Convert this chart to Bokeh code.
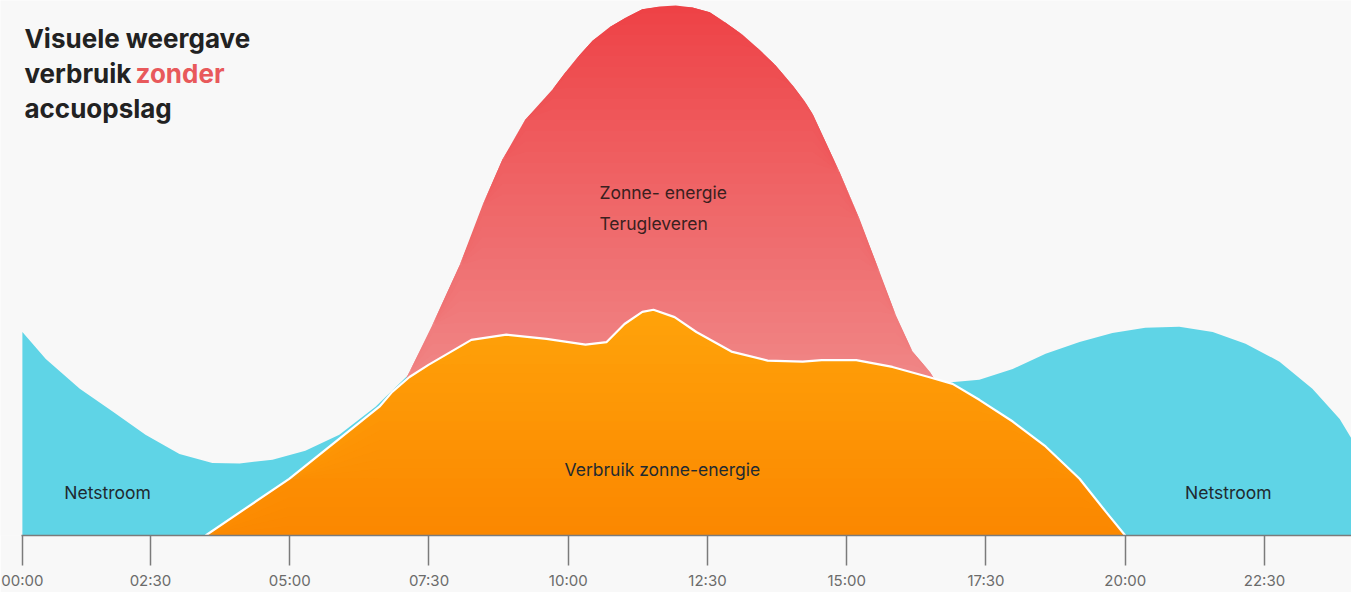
import numpy as np
from bokeh.plotting import figure
from bokeh.models import Range1d, LinearAxis, FixedTicker, Label
from bokeh.embed import file_html
from bokeh.resources import INLINE

# ---------------- data (hours of day, relative power 0-100) ----------------
grid_hours = [0.20, 0.62, 1.23, 1.82, 2.41, 3.02, 3.61, 4.10, 4.69, 5.28, 5.89, 6.54,
              7.15, 7.49, 8.26, 8.89, 9.61, 10.31, 10.69, 11.01, 11.33, 11.53, 11.91,
              12.30, 12.93, 13.58, 14.21, 14.55, 15.17, 15.82, 16.47, 16.77, 17.38,
              17.98, 18.57, 19.18, 19.77, 20.36, 20.97, 21.57, 22.16, 22.77, 23.36,
              23.85, 24.12]
grid_load = [38.4, 33.3, 27.7, 23.4, 19.0, 15.4, 13.7, 13.6, 14.3, 16.0, 19.0, 24.3,
             30.5, 32.2, 36.9, 37.9, 37.1, 36.0, 36.5, 39.9, 42.2, 42.6, 41.2,
             38.4, 34.7, 33.0, 32.8, 33.1, 33.1, 31.8, 29.9, 28.8, 29.4,
             31.4, 34.3, 36.5, 38.2, 39.2, 39.4, 38.4, 36.2, 32.8, 27.7,
             22.0, 17.3]

solar_hours = [7.02, 7.15, 7.56, 8.05, 8.46, 8.82, 9.23, 9.72, 9.95, 10.20, 10.44,
               10.74, 11.03, 11.33, 11.64, 11.93, 12.23, 12.54, 12.82, 13.13, 13.43,
               13.72, 14.03, 14.26, 14.39, 14.87, 15.23, 15.59, 15.88, 16.18, 16.49,
               16.63]
solar_prod = [28.1, 30.9, 39.7, 51.0, 62.3, 71.0, 78.5, 84.2, 87.4, 90.6, 93.4,
              95.9, 97.7, 99.3, 99.8, 100.0, 99.6, 98.7, 96.8, 94.5, 91.7,
              88.7, 84.9, 81.7, 79.5, 68.6, 59.7, 49.7, 41.6, 34.7, 30.9,
              28.6]

self_hours = [3.49, 4.99, 6.61, 6.84, 7.15, 7.49, 8.26, 8.89, 9.61, 10.31, 10.69,
              11.01, 11.33, 11.53, 11.91, 12.30, 12.93, 13.58, 14.21, 14.55, 15.17,
              15.82, 16.47, 16.90, 17.38, 17.98, 18.57, 19.18, 19.65, 20.00]
self_use = [0.0, 10.7, 24.3, 27.1, 29.9, 32.2, 36.9, 37.9, 37.1, 36.0, 36.5,
            39.9, 42.2, 42.6, 41.2, 38.4, 34.7, 33.0, 32.8, 33.1, 33.1,
            31.8, 29.9, 28.6, 25.6, 21.5, 16.8, 10.7, 4.5, 0.0]

tick_hours = [0.2, 2.5, 5.0, 7.5, 10.0, 12.5, 15.0, 17.5, 20.0, 22.5]
tick_labels = ["00:00", "02:30", "05:00", "07:30", "10:00", "12:30", "15:00",
               "17:30", "20:00", "22:30"]

BG = "#f8f8f8"
BLUE = "#5fd4e6"
RED_TOP, RED_BOTTOM = (238, 66, 70), (240, 134, 134)
ORA_TOP, ORA_BOTTOM = (255, 163, 10), (251, 135, 0)
FONT = "Inter"

p = figure(width=1351, height=592, x_range=Range1d(-0.193, 24.062),
           y_range=Range1d(0, 100.94), output_backend="svg", toolbar_location=None,
           x_axis_location=None, y_axis_location=None,
           min_border_left=0, min_border_right=0, min_border_top=0, min_border_bottom=56,
           background_fill_color=BG, border_fill_color=BG, outline_line_color=None)
p.xgrid.visible = False
p.ygrid.visible = False


def hexcol(c):
    return "#%02x%02x%02x" % tuple(int(round(v)) for v in c)


def gradient_area(x, y, c_bottom, c_top, v_bottom, v_top, n):
    x = np.asarray(x, dtype=float)
    y = np.asarray(y, dtype=float)
    edges = np.linspace(0, y.max() + 0.5, n + 1)
    overlap = (edges[1] - edges[0]) * 0.6
    for lo, hi in zip(edges[:-1], edges[1:]):
        t = np.clip(((lo + hi) / 2 - v_bottom) / (v_top - v_bottom), 0, 1)
        col = [c_bottom[i] + (c_top[i] - c_bottom[i]) * t for i in range(3)]
        p.varea(x=x, y1=np.minimum(y, lo), y2=np.minimum(y, hi + overlap),
                fill_color=hexcol(col))


# grid consumption (blue)
p.varea(x=grid_hours, y1=0, y2=grid_load, fill_color=BLUE)
# solar production (red gradient)
gradient_area(solar_hours, solar_prod, RED_BOTTOM, RED_TOP, 30, 100, 50)
# self-consumed solar (orange gradient)
gradient_area(self_hours, self_use, ORA_BOTTOM, ORA_TOP, 0, 43, 24)
p.line(self_hours, self_use, line_color="white", line_width=2.2)

# axis
xaxis = LinearAxis(ticker=FixedTicker(ticks=tick_hours),
                   major_label_overrides={h: l for h, l in zip(tick_hours, tick_labels)},
                   bounds=(0.19, 24.12))
xaxis.axis_line_color = "#7b7b7b"
xaxis.axis_line_width = 1.5
xaxis.major_tick_line_color = "#7b7b7b"
xaxis.major_tick_line_width = 1.5
xaxis.major_tick_in = 0
xaxis.major_tick_out = 30
xaxis.minor_tick_line_color = None
xaxis.major_label_standoff = 5
xaxis.major_label_text_font = FONT
xaxis.major_label_text_font_size = "15px"
xaxis.major_label_text_color = "#6b6b6b"
p.add_layout(xaxis, "below")


def add_label(x, y, text, color, size, style="normal", align="left"):
    p.add_layout(Label(x=x, y=y, text=text, text_color=color, text_font=FONT,
                       text_font_size=size, text_font_style=style,
                       text_align=align, text_baseline="middle"))


# title
add_label(0.237, 93.8, "Visuele weergave", "#222222", "26px", "bold")
add_label(0.237, 87.2, "verbruik", "#222222", "26px", "bold")
add_label(2.231, 87.2, "zonder", "#e8595b", "26px", "bold")
add_label(0.237, 80.6, "accuopslag", "#222222", "26px", "bold")

# area labels
LAB = "#1f2a30"
add_label(1.73, 8.1, "Netstroom", LAB, "17.5px", align="center")
add_label(21.85, 8.1, "Netstroom", LAB, "17.5px", align="center")
add_label(11.69, 12.4, "Verbruik zonne-energie", LAB, "17.5px", align="center")
add_label(10.56, 64.8, "Zonne- energie", "#3a2020", "17.5px")
add_label(10.56, 58.9, "Terugleveren", "#3a2020", "17.5px")

open("out.html", "w").write(file_html(p, INLINE))
